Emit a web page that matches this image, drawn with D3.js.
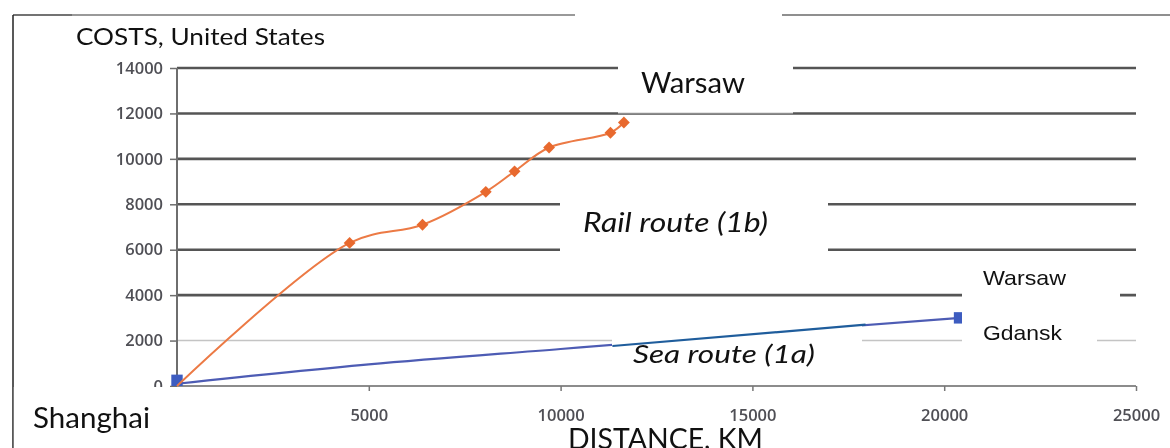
<!DOCTYPE html>
<html><head><meta charset="utf-8">
<script src="https://cdn.jsdelivr.net/npm/d3@7"></script>
<style>
html,body{margin:0;padding:0;background:#fff;}
svg{display:block;}
</style></head>
<body>
<svg id="c" width="1170" height="448"></svg>
<script>
// ---- data ----
const yTicks = [0, 2000, 4000, 6000, 8000, 10000, 12000, 14000];
const xTicks = [5000, 10000, 15000, 20000, 25000];
const railDistance = [0, 4500, 6400, 8050, 8800, 9700, 11300, 11650];
const railCost     = [0, 6300, 7100, 8550, 9450, 10500, 11150, 11600];
const seaDistance  = [0, 5000, 10000, 15000, 20400];
const seaCost      = [100, 950, 1630, 2300, 3000];
const seaMarkerDistance = [0, 20400];
const seaMarkerCost     = [250, 3000];
const seaOverlayDistance = [11350, 17950];
const seaOverlayCost     = [1760, 2700];
const titleText = "COSTS, United States";
const xTitle = "DISTANCE, KM";
const labels = {rail: "Rail route (1b)", sea: "Sea route (1a)", start: "Shanghai", railEnd: "Warsaw", seaEnd1: "Warsaw", seaEnd2: "Gdansk"};

// ---- chart ----
const svg = d3.select("#c");
const defs = svg.append("defs");
defs.append("filter").attr("id", "soft").append("feGaussianBlur").attr("stdDeviation", 0.45);
const x = d3.scaleLinear().domain([0, 25000]).range([177, 1136]);
const y = d3.scaleLinear().domain([0, 14000]).range([386, 68]);
const CAL = "Lato, 'Open Sans', sans-serif";

// frame
svg.append("line").attr("x1", 13).attr("x2", 72).attr("y1", 15).attr("y2", 15).attr("stroke", "#444").attr("stroke-width", 1.5);
svg.append("line").attr("x1", 72).attr("x2", 575).attr("y1", 15).attr("y2", 15).attr("stroke", "#777").attr("stroke-width", 1.5);
svg.append("line").attr("x1", 782).attr("x2", 1170).attr("y1", 15).attr("y2", 15).attr("stroke", "#6a6a6a").attr("stroke-width", 1.5);
svg.append("line").attr("x1", 13).attr("x2", 13).attr("y1", 15).attr("y2", 448).attr("stroke", "#222").attr("stroke-width", 1.5);

const plot = svg.append("g").attr("filter", "url(#soft)");

// gridlines
plot.append("g").selectAll("line").data(yTicks.filter(d => d > 0)).join("line")
  .attr("x1", 177).attr("x2", x(25000)).attr("y1", d => y(d)).attr("y2", d => y(d))
  .attr("stroke", d => d === 2000 ? "#c4c4c4" : "#555")
  .attr("stroke-width", d => d === 2000 ? 1.6 : 2.6);

// y axis
const yAxis = plot.append("g").attr("transform", "translate(177,0)")
  .call(d3.axisLeft(y).tickValues(yTicks).tickSize(7).tickPadding(7).tickFormat(d3.format("d")));
yAxis.select(".domain").attr("stroke", "#6e6e6e").attr("stroke-width", 2).attr("d", `M0,${y(14000)}V${y(0)}`);
yAxis.selectAll(".tick line").attr("stroke", "#6e6e6e").attr("stroke-width", 1.5);
yAxis.selectAll("text").attr("fill", "#4f4f55").style("font", "600 16.5px 'Open Sans', sans-serif");

// x axis
const xAxis = plot.append("g").attr("transform", `translate(0,${y(0)})`)
  .call(d3.axisBottom(x).tickValues(xTicks).tickSize(5).tickPadding(18).tickFormat(d3.format("d")));
xAxis.select(".domain").attr("stroke", "#8c8c8c").attr("stroke-width", 2).attr("d", `M177,0H${x(25000)}`);
xAxis.selectAll(".tick line").attr("stroke", "#777").attr("stroke-width", 1.5);
xAxis.selectAll("text").attr("fill", "#4f4f55").style("font", "600 16.5px 'Open Sans', sans-serif");

// sea line
const sea = seaDistance.map((d, i) => [d, seaCost[i]]);
plot.append("path").datum(sea)
  .attr("d", d3.line().x(d => x(d[0])).y(d => y(d[1])).curve(d3.curveMonotoneX))
  .attr("fill", "none").attr("stroke", "#4e5cb4").attr("stroke-width", 2.2);
plot.append("g").selectAll("path").data(seaMarkerDistance.map((d, i) => [d, seaMarkerCost[i]])).join("path")
  .attr("transform", d => `translate(${x(d[0])},${y(d[1])})`)
  .attr("d", d3.symbol(d3.symbolSquare, 130))
  .attr("fill", "#3c5cc0");

// rail line
const rail = railDistance.map((d, i) => [d, railCost[i]]);
plot.append("path").datum(rail)
  .attr("d", d3.line().x(d => x(d[0])).y(d => y(d[1])).curve(d3.curveCatmullRom.alpha(0.5)))
  .attr("fill", "none").attr("stroke", "#ec7a45").attr("stroke-width", 2);
plot.append("g").selectAll("path").data(rail.slice(1)).join("path")
  .attr("transform", d => `translate(${x(d[0])},${y(d[1])}) rotate(45)`)
  .attr("d", d3.symbol(d3.symbolSquare, 70))
  .attr("fill", "#e8692e");

// white label boxes
const boxes = [
  [72, 18, 268, 36],
  [618, 45, 175, 68],
  [560, 182, 268, 82],
  [612, 316, 250, 69],
  [962, 262, 158, 58],
  [962, 320, 135, 40],
  [13.8, 387, 174, 61]
];
svg.append("g").selectAll("rect").data(boxes).join("rect")
  .attr("x", d => d[0]).attr("y", d => d[1]).attr("width", d => d[2]).attr("height", d => d[3])
  .attr("fill", "#fff");
svg.append("line").attr("x1", 618).attr("x2", 793).attr("y1", 113).attr("y2", 113).attr("stroke", "#c8c8c8").attr("stroke-width", 1);

// overlay sea segment
svg.append("path").datum(seaOverlayDistance.map((d, i) => [d, seaOverlayCost[i]]))
  .attr("d", d3.line().x(d => x(d[0])).y(d => y(d[1])))
  .attr("fill", "none").attr("stroke", "#1f5d9c").attr("stroke-width", 2.2);

// texts
function txt(s, px, py, size, w, opts = {}) {
  return svg.append("text").attr("x", px).attr("y", py).text(s)
    .attr("textLength", w).attr("lengthAdjust", "spacingAndGlyphs")
    .style("font-family", opts.family || CAL).style("font-size", size + "px")
    .style("font-style", opts.italic ? "italic" : "normal").attr("fill", "#111");
}
txt(titleText, 76, 45, 23, 249);
txt(labels.railEnd, 641, 93, 29, 104);
txt(labels.rail, 583, 232, 27, 185, {italic: true});
txt(labels.sea, 633, 363, 25, 182, {italic: true});
txt(labels.start, 33, 428, 28, 117);
txt(labels.seaEnd1, 983, 285, 21, 83, {family: "'Liberation Sans', Arial, sans-serif"});
txt(labels.seaEnd2, 983, 340, 21, 79, {family: "'Liberation Sans', Arial, sans-serif"});
txt(xTitle, 568, 449, 28, 195);
</script>
</body></html>
